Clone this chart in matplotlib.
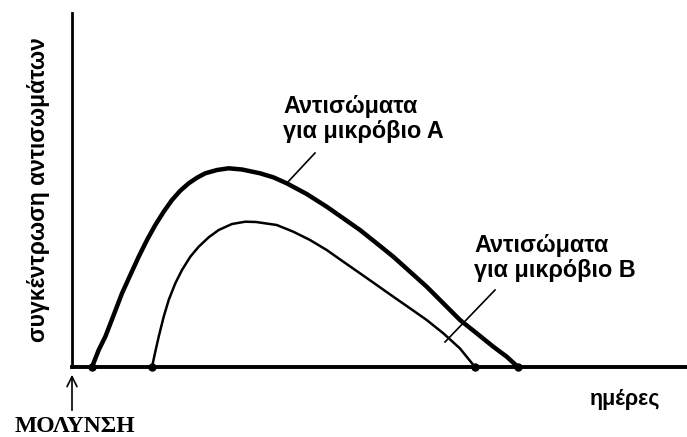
import matplotlib
matplotlib.use("Agg")
import matplotlib.pyplot as plt

# schematic units: days after infection, relative antibody concentration
days_a = [2.0, 2.67, 3.33, 4.17, 5.0, 5.83, 6.67, 7.5, 8.33, 9.17, 10.0,
          10.83, 11.67, 12.5, 13.33, 14.5, 15.67, 17.0, 18.8, 20.13, 21.47,
          23.47, 25.47, 27.13, 28.8, 30.47, 32.13, 33.8, 35.47, 37.13, 38.8,
          40.47, 42.13, 43.47, 44.6]
conc_a = [0.0, 1.7, 3.03, 5.2, 7.37, 9.2, 11.03, 12.7, 14.2, 15.53, 16.7,
          17.63, 18.37, 18.93, 19.37, 19.7, 19.87, 19.75, 19.37, 18.97, 18.37,
          17.3, 16.03, 14.87, 13.7, 12.37, 11.03, 9.53, 8.03, 6.37, 4.7,
          3.37, 2.03, 1.03, 0.0]

days_b = [8.0, 8.33, 8.67, 9.17, 9.67, 10.33, 11.0, 11.83, 12.67, 13.67,
          14.67, 16.0, 17.33, 18.4, 20.47, 22.13, 23.8, 25.47, 27.13, 28.8,
          30.47, 32.13, 33.8, 35.47, 37.13, 38.8, 40.3]
conc_b = [0.0, 1.53, 3.03, 5.03, 6.7, 8.37, 9.7, 11.03, 12.03, 12.97,
          13.7, 14.3, 14.53, 14.5, 14.2, 13.53, 12.7, 11.7, 10.53, 9.37,
          8.2, 7.03, 5.87, 4.7, 3.37, 1.85, 0.0]

label_a = "Αντισώματα\nγια μικρόβιο Α"
label_b = "Αντισώματα\nγια μικρόβιο Β"
xlabel = "ημέρες"
ylabel = "συγκέντρωση αντισωμάτων"
infection = "ΜΟΛΥΝΣΗ"

W, H = 687, 437
fig = plt.figure(figsize=(W / 100, H / 100), dpi=100)
ax = fig.add_axes([72 / W, 70 / H, 615 / W, 354 / H])
ax.set_xlim(0, 61.5)
ax.set_ylim(0, 35.4)

for side in ["top", "right"]:
    ax.spines[side].set_visible(False)
ax.spines["bottom"].set_linewidth(2.8)
ax.spines["left"].set_linewidth(2.0)
ax.set_xticks([])
ax.set_yticks([])

ax.plot(days_a, conc_a, color="black", lw=3.2, solid_capstyle="round",
        solid_joinstyle="round", zorder=3)
ax.plot(days_b, conc_b, color="black", lw=1.8, solid_capstyle="round",
        solid_joinstyle="round", zorder=3)

# dots where the curves meet the day axis
ax.plot([days_a[0], days_a[-1], days_b[0], days_b[-1]], [0, 0, 0, 0],
        "o", color="black", ms=5, clip_on=False, zorder=4)

# leader lines to labels
ax.plot([21.47, 24.3], [18.37, 21.4], color="black", lw=1.2)
ax.plot([37.3, 42.3], [2.5, 7.7], color="black", lw=1.2)

lab_font = dict(family="Liberation Sans", fontweight="bold", fontsize=16.8)
ax.text(21.1, 27.2, label_a, ha="left", va="top", linespacing=1.12, **lab_font)
ax.text(40.2, 13.3, label_b, ha="left", va="top", linespacing=1.12, **lab_font)

fig.text(625 / W, 1 - 400 / H, xlabel, ha="center", va="center",
         family="Liberation Sans", fontweight="bold", fontsize=15.5)
fig.text(39 / W, 1 - 190 / H, ylabel, ha="center", va="center", rotation=90,
         family="Liberation Sans", fontweight="bold", fontsize=16.5)
fig.text(75 / W, 1 - 426 / H, infection, ha="center", va="center",
         family="Liberation Serif", fontweight="bold", fontsize=17)

ax.annotate("", xy=(72, H - 372), xycoords="figure pixels",
            xytext=(72, H - 413), textcoords="figure pixels",
            arrowprops=dict(arrowstyle="->", lw=1.2, color="black",
                            mutation_scale=18))

fig.savefig("out.png", dpi=100)
